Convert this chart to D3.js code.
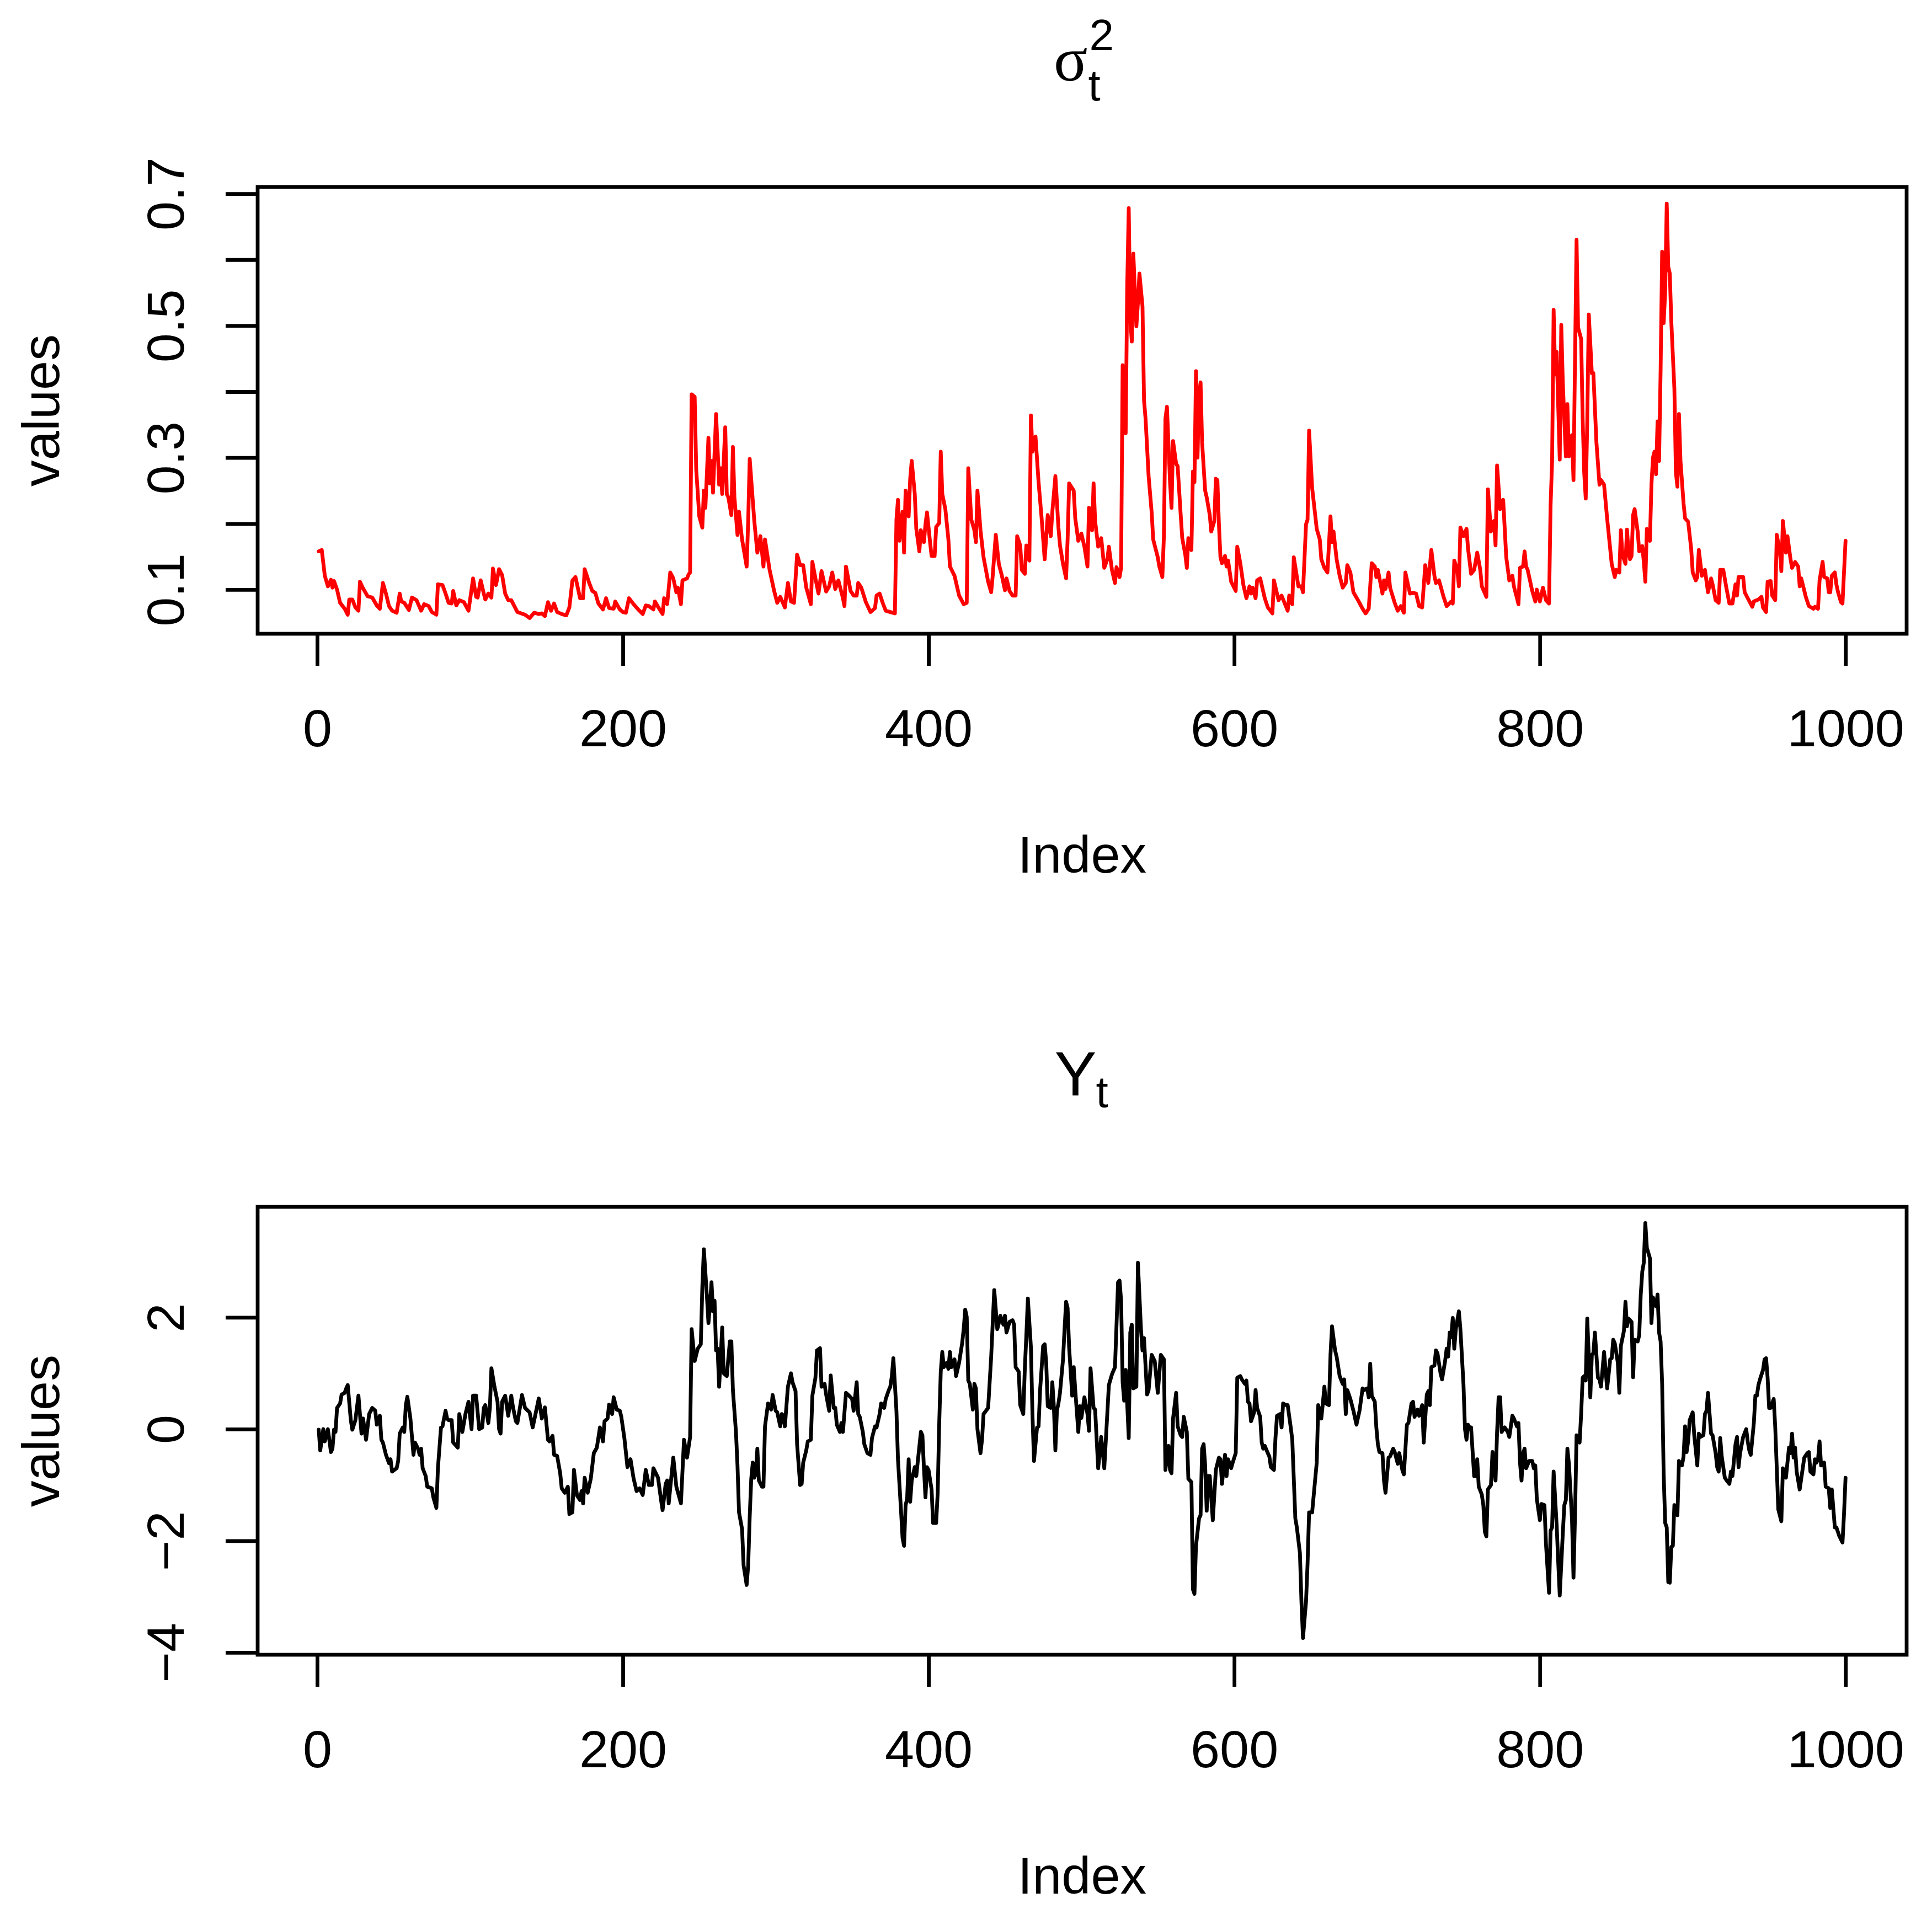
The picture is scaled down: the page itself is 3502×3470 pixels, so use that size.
<!DOCTYPE html>
<html>
<head>
<meta charset="utf-8">
<script src="https://cdn.jsdelivr.net/npm/d3@7"></script>
<style>
  body { margin: 0; background: #fff; }
  svg { display: block; }
</style>
</head>
<body>
<div id="chart"></div>
<script>
// x axis (shared)
var xTicks = [0, 200, 400, 600, 800, 1000];

// top panel: sigma_t^2
var sigmaTicks = [0.1, 0.2, 0.3, 0.4, 0.5, 0.6, 0.7];
var sigmaTickLabels = ["0.1", "", "0.3", "", "0.5", "", "0.7"];
var sigmaIdx = [1,3,5,7,9,10,11,13,15,18,20,21,23,25,27,28,30,33,36,39,41,43,45,47,49,52,54,55,57,60,62,65,68,70,73,75,78,79,82,84,86,88,89,91,93,96,99,100,102,104,105,107,109,110,112,114,115,117,119,121,123,125,127,131,136,139,142,145,147,149,151,153,155,157,160,163,165,167,169,172,174,175,178,180,182,184,187,189,191,194,195,198,200,202,204,207,210,213,215,217,220,221,223,226,
  227,229,231,233,235,236,238,239,242,243,244,245,247,248,250,252,253,254,256,257,258,259,261,263,264,265,267,268,269,271,272,273,275,276,278,281,282,283,286,288,290,292,293,296,299,301,303,306,308,310,312,314,316,318,320,323,324,326,328,330,333,335,337,339,341,344,345,346,349,351,353,354,356,359,362,365,366,368,370,372,375,378,379,380,381,383,384,385,387,388,389,391,392,394,395,397,398,399,401,402,404,405,407,408,409,411,413,414,417,420,423,425,426,428,430,431,432,434,436,439,441,442,444,446,448,450,451,453,455,457,458,460,461,463,464,466,467,468,470,472,474,476,478,480,481,483,485,486,488,490,491,492,495,496,498,500,
  502,504,505,507,508,509,511,513,515,517,518,520,522,523,525,526,527,529,530,531,532,533,534,536,537,538,540,541,542,544,546,547,550,551,553,554,555,556,558,559,560,562,563,565,566,568,569,570,572,573,574,575,576,577,578,579,581,582,584,585,587,588,589,590,591,592,594,595,596,598,601,602,604,606,608,610,611,612,614,615,617,620,622,625,626,629,631,635,636,638,639,642,644,645,647,648,649,651,653,654,656,657,659,661,663,664,665,667,669,671,673,674,676,678,681,684,686,688,690,692,693,694,697,698,699,701,702,705,707,709,711,712,715,717,719,721,723,725,727,729,731,732,734,737,739,742,743,744,746,747,748,750,752,753,755,757,759,761,762,765,766,768,770,771,772,774,776,
  778,780,782,783,785,786,787,789,790,791,792,795,797,798,800,802,804,806,807,808,809,810,811,813,814,815,817,818,819,821,822,823,824,825,827,828,829,830,831,832,834,835,837,839,840,842,844,847,849,850,852,853,854,856,857,858,859,860,861,862,864,865,867,868,869,870,872,873,874,875,876,877,878,879,880,881,882,883,884,885,886,888,889,890,891,892,894,895,897,899,900,902,903,904,906,908,910,912,913,915,917,918,920,922,924,926,928,929,930,933,934,936,939,940,943,945,946,948,949,951,952,954,955,957,958,959,961,962,964,965,967,969,970,971,974,976,979,980,982,983,985,986,988,989,990,991,993,994,995,997,998,1000];
var sigmaVal = [.158,.160,.121,.105,.115,.103,.113,.100,.080,.071,.062,.085,.085,.073,.068,.112,.102,.090,.088,.076,.071,.110,.094,.075,.068,.065,.094,.082,.080,.069,.088,.084,.068,.078,.075,.066,.062,.108,.107,.094,.080,.079,.098,.076,.084,.081,.068,.084,.117,.089,.088,.114,.094,.085,.094,.088,.132,.107,.131,.122,.094,.084,.084,.066,.062,.057,.065,.063,.064,.060,.081,.068,.079,.066,.063,.061,.073,.114,.119,.087,.087,.131,.110,.098,.095,.079,.070,.087,.072,.071,.082,.070,.066,.065,.087,.078,.070,.063,.076,.075,.070,.082,.074,.063,
  .087,.078,.126,.117,.096,.103,.078,.114,.117,.123,.126,.396,.392,.282,.211,.194,.250,.224,.330,.261,.295,.247,.366,.259,.284,.245,.346,.245,.240,.213,.316,.240,.183,.218,.176,.135,.204,.298,.204,.156,.181,.135,.176,.130,.098,.080,.089,.073,.110,.082,.080,.153,.137,.137,.103,.078,.142,.117,.094,.128,.097,.105,.126,.101,.114,.087,.075,.135,.098,.091,.091,.110,.103,.081,.066,.072,.091,.094,.080,.068,.066,.064,.206,.236,.174,.218,.156,.250,.211,.268,.295,.245,.192,.158,.190,.172,.199,.217,.172,.151,.151,.195,.201,.309,.245,.222,.176,.135,.121,.091,.078,.080,.284,.206,.190,.172,.250,.190,.149,.112,.096,.121,.183,.139,.121,.099,.117,.098,.091,.091,.181,.167,.130,.124,.167,.144,.364,.309,.332,.263,.208,.146,.213,.181,.218,.272,.194,.167,.139,.117,.176,.261,.250,.208,.174,.185,
  .165,.135,.224,.190,.261,.204,.165,.178,.133,.146,.165,.130,.110,.134,.119,.133,.440,.337,.561,.678,.511,.476,.609,.499,.534,.579,.529,.387,.359,.272,.217,.176,.149,.135,.119,.181,.359,.377,.263,.224,.325,.291,.287,.213,.178,.153,.133,.178,.160,.279,.263,.431,.300,.394,.414,.323,.250,.240,.213,.188,.204,.268,.266,.199,.149,.140,.151,.135,.144,.112,.098,.165,.140,.107,.087,.105,.094,.103,.087,.114,.117,.087,.073,.064,.114,.084,.091,.068,.091,.078,.149,.105,.105,.096,.199,.206,.341,.254,.213,.192,.176,.146,.133,.126,.211,.172,.188,.146,.121,.103,.110,.137,.126,.096,.084,.071,.064,.071,.140,.135,.119,.130,.094,.114,.101,.126,.103,.080,.068,.075,.065,.126,.094,.095,.094,.075,.073,.137,.110,.160,.121,.110,.114,.089,.075,.082,.079,.144,.130,.105,.194,.181,.192,.162,.124,.130,.156,.130,.105,.089,.252,.188,.204,.167,.288,.222,.236,
  .149,.114,.121,.105,.087,.078,.133,.135,.158,.135,.130,.098,.082,.100,.082,.103,.084,.079,.227,.295,.524,.426,.460,.297,.501,.414,.302,.381,.302,.334,.266,.449,.630,.497,.480,.359,.277,.238,.355,.517,.428,.428,.323,.259,.266,.259,.208,.139,.119,.130,.126,.190,.153,.139,.191,.158,.146,.151,.213,.222,.188,.158,.166,.142,.112,.192,.174,.259,.300,.309,.275,.355,.295,.433,.612,.504,.552,.685,.589,.579,.506,.405,.277,.256,.366,.295,.231,.208,.203,.162,.126,.114,.119,.160,.121,.130,.096,.117,.108,.084,.080,.130,.130,.103,.079,.079,.108,.091,.119,.119,.096,.087,.074,.082,.085,.089,.073,.066,.112,.113,.091,.084,.183,.158,.128,.204,.156,.181,.146,.133,.142,.135,.105,.117,.089,.075,.071,.074,.071,.114,.142,.119,.117,.096,.096,.121,.126,.108,.097,.081,.079,.174];

// bottom panel: Y_t
var yTicks = [-4, -2, 0, 2];
var yTickLabels = ["\u22124", "\u22122", "0", "2"];
var yIdx = [1,2,4,5,7,9,10,11,12,13,15,16,18,19,20,22,23,25,27,29,30,32,34,36,38,39,41,42,43,45,47,48,49,52,53,54,56,57,58,59,61,63,64,66,67,68,69,71,72,75,76,78,79,81,82,84,85,86,88,89,92,93,95,97,99,100,101,102,104,106,108,109,110,112,113,114,116,118,119,120,121,123,125,127,128,130,131,134,136,139,141,145,147,149,151,152,154,155,157,159,160,162,164,165,167,168,170,172,173,174,175,177,179,181,183,185,187,188,190,191,193,194,196,198,199,201,203,205,207,209,211,213,215,217,219,220,223,225,226,
  228,229,230,233,235,238,240,242,244,245,247,249,251,252,253,255,256,257,258,259,260,261,262,263,265,266,268,270,271,272,274,275,276,278,279,281,282,283,284,285,286,287,288,289,291,292,293,295,297,298,300,301,303,304,305,306,308,310,311,313,314,316,317,318,320,321,323,324,326,327,329,330,332,333,335,336,338,339,340,342,343,344,346,348,350,351,353,354,355,357,358,360,362,363,365,366,368,369,371,372,374,375,376,377,379,380,382,383,384,385,386,387,388,389,391,392,393,395,396,397,398,399,400,402,403,405,406,407,408,409,410,412,413,414,415,417,418,420,422,423,424,425,426,427,429,430,431,432,434,435,436,439,441,443,445,446,447,449,450,451,453,455,456,457,459,460,462,463,464,465,467,468,469,471,472,473,475,476,477,478,480,481,482,483,484,485,486,488,489,490,491,492,494,495,496,498,499,
  500,502,504,505,506,508,509,511,513,515,518,520,522,524,525,526,527,528,529,531,532,533,534,536,537,539,540,541,543,544,546,548,550,552,554,555,557,558,559,560,562,563,565,566,567,569,570,572,573,574,575,577,578,579,580,581,582,583,584,586,588,590,591,592,594,595,596,598,599,601,602,604,605,607,608,609,610,611,613,614,615,617,618,619,620,622,623,624,626,627,628,630,631,632,634,635,637,638,640,641,643,644,645,647,648,649,651,652,654,655,657,658,659,660,662,663,664,666,667,669,671,672,673,674,676,678,680,682,684,685,687,688,689,690,692,693,694,695,697,698,699,701,702,704,705,707,708,710,711,713,714,716,717,718,720,721,723,724,726,727,728,729,731,732,733,735,736,738,739,740,741,742,743,744,745,746,747,748,750,751,752,753,754,755,757,758,759,760,762,763,764,765,766,768,769,771,772,773,774,775,777,
  779,780,782,783,785,786,787,788,789,790,791,793,795,796,797,798,800,801,803,804,806,807,808,809,811,812,813,815,816,817,818,819,821,822,823,824,826,827,828,829,830,831,832,833,834,835,836,838,839,840,842,843,844,845,846,847,848,849,851,852,853,855,856,857,858,860,861,862,864,865,866,867,868,869,870,872,873,874,876,877,878,879,880,881,882,883,884,885,886,887,888,889,890,891,893,894,895,896,897,898,900,901,903,904,905,907,908,909,910,912,913,915,916,917,918,919,921,922,924,925,926,928,929,930,931,933,935,936,937,938,940,941,942,943,944,946,947,948,949,950,951,953,954,955,956,958,959,961,962,963,964,965,966,967,968,970,972,973,975,976,977,979,980,981,982,983,984,986,987,989,990,991,993,994,996,998,999,1000];
var yVal = [-0.01,-0.38,0,-0.22,0,-0.41,-0.35,-0.01,-0.05,0.38,0.46,0.62,0.65,0.73,0.79,0.16,-0.01,0.16,0.60,-0.08,0.19,-0.19,0.27,0.38,0.33,0.08,0.24,-0.19,-0.24,-0.46,-0.61,-0.54,-0.76,-0.70,-0.57,-0.08,0.03,-0.05,0.43,0.58,0.19,-0.46,-0.24,-0.35,-0.46,-0.35,-0.70,-0.84,-1.03,-1.06,-1.22,-1.41,-0.70,0.03,0.05,0.33,0.19,0.16,0.16,-0.24,-0.33,0.27,-0.05,0.27,0.49,0.24,0,0.60,0.60,0,0.03,0.38,0.43,0.11,0.38,1.09,0.76,0.49,0,-0.08,0.49,0.60,0.24,0.60,0.41,0.14,0.11,0.61,0.38,0.30,0.03,0.55,0.19,0.39,-0.19,-0.22,-0.12,-0.46,-0.48,-0.79,-1.06,-1.14,-1.03,-1.52,-1.49,-0.73,-1.19,-1.27,-1.11,-1.33,-0.87,-1.14,-0.89,-0.43,-0.33,0.03,-0.22,0.14,0.19,0.44,0.27,0.57,0.35,0.33,0.22,-0.16,-0.68,-0.54,-0.88,-1.11,-1.06,-1.18,-0.73,-1.00,-1.00,-0.70,-0.87,-1.27,-1.45,
  -0.98,-0.92,-1.33,-0.51,-1.03,-1.33,-0.19,-0.51,-0.14,1.79,1.22,1.44,1.52,2.55,3.22,2.38,1.90,2.22,2.63,2.11,2.30,1.41,1.44,0.76,1.82,1.00,0.95,1.57,1.57,0.70,-0.05,-0.65,-1.49,-1.79,-2.44,-2.79,-2.44,-1.57,-0.89,-0.60,-0.87,-0.79,-0.35,-0.92,-1.03,-1.03,0.05,0.46,0.35,0.61,0.33,0.30,0.05,0.27,0.24,0.05,0.76,1.00,0.84,0.68,-0.27,-1.00,-0.98,-0.60,-0.38,-0.22,-0.19,0.60,0.92,1.41,1.45,0.76,0.81,0.62,0.33,0.96,0.38,0.38,0.08,-0.05,0.11,-0.05,0.65,0.60,0.54,0.33,0.84,0.27,0.22,-0.05,-0.27,-0.43,-0.46,-0.16,0.05,0.03,0.27,0.46,0.38,0.54,0.70,0.76,0.95,1.27,0.33,-0.54,-1.46,-1.95,-2.09,-1.36,-1.25,-0.54,-1.30,-0.92,-0.68,-0.84,-0.57,-0.05,-0.11,-0.70,-1.22,-0.68,-0.73,-1.08,-1.68,-1.68,-1.14,0.11,1.03,1.38,1.11,1.19,1.08,1.38,1.11,1.25,0.95,1.19,1.54,1.79,2.14,2.01,0.87,0.81,0.35,0.81,0.73,0,-0.43,-0.19,0.27,0.38,1.30,2.49,1.79,1.90,2.03,1.87,2.03,1.73,1.92,1.95,1.87,1.11,1.03,0.43,0.27,1.08,1.68,2.34,1.46,0.27,-0.57,0.03,0.05,0.70,1.49,1.52,1.19,0.41,0.38,0.84,0.41,-0.38,0.33,0.46,0.65,1.25,1.79,2.28,2.17,1.46,0.60,1.11,0.70,-0.05,0.41,
  0.20,0.57,0.27,-0.03,1.09,0.38,0.35,-0.70,-0.14,-0.70,0.79,0.98,1.11,2.63,2.66,2.30,0.84,0.51,1.06,-0.16,1.73,1.87,0.73,0.76,2.98,1.79,1.41,1.63,0.62,0.70,1.33,1.22,0.65,1.33,1.25,-0.73,-0.30,-0.73,-0.79,0.19,0.65,0.05,-0.11,-0.14,0.22,-0.05,-0.89,-0.95,-2.87,-2.95,-2.09,-1.60,-1.54,-0.35,-0.27,-0.65,-1.46,-0.84,-0.84,-1.63,-0.73,-0.51,-0.54,-0.98,-0.46,-0.84,-0.54,-0.70,-0.60,-0.43,0.92,0.95,0.89,0.81,0.87,0.49,0.46,0.14,0.30,0.70,0.38,0.22,-0.24,-0.35,-0.30,-0.43,-0.49,-0.68,-0.73,-0.16,0.24,0.27,0.03,0.46,0.43,0.43,0.03,-0.19,-1.60,-1.76,-2.22,-3.09,-3.74,-3.09,-2.41,-1.49,-1.49,-1.19,-0.60,0.43,0.19,0.46,0.76,0.46,0.43,1.33,1.84,1.41,1.30,0.95,0.81,0.89,0.27,0.70,0.54,0.33,0.08,0.33,0.73,0.70,0.73,0.57,1.17,0.60,0.49,0.03,-0.27,-0.41,-0.43,-0.92,-1.14,-0.51,-0.49,-0.35,-0.41,-0.62,-0.43,-0.73,-0.81,0.08,0.11,0.46,0.49,0.22,0.35,0.24,0.43,-0.24,0.62,0.68,0.43,1.11,1.14,1.41,1.36,1.00,0.89,1.22,1.44,1.30,1.73,1.65,1.99,1.44,1.79,1.95,2.11,1.79,0.81,0,-0.19,0.08,0.03,0.03,-0.84,-0.84,-0.54,-1.03,-1.17,-1.36,-1.84,-1.92,-1.08,-1.00,-0.41,-0.92,-0.05,0.57,0.57,-0.05,0.03,
  -0.05,-0.14,0.24,0.19,0.05,0.11,-0.60,-0.92,-0.43,-0.35,-0.70,-0.57,-0.57,-0.70,-0.65,-1.25,-1.63,-1.34,-1.36,-2.06,-2.93,-1.82,-1.76,-0.76,-1.73,-2.38,-2.98,-1.87,-1.36,-1.27,-0.35,-0.62,-1.60,-2.66,-1.54,-0.11,-0.24,0.27,0.92,0.95,0.87,1.98,1.30,0.57,1.33,1.36,1.73,0.92,0.89,0.76,1.38,1.06,0.73,0.98,1.25,1.27,1.60,1.54,1.19,0.65,1.49,1.76,2.28,1.84,1.98,1.92,0.93,1.60,1.57,1.68,2.41,2.82,2.98,3.69,3.25,3.06,1.90,2.36,2.20,2.41,1.73,1.57,0.81,-0.81,-1.68,-1.76,-2.74,-2.75,-2.11,-2.09,-1.36,-1.38,-1.54,-0.57,-0.65,-0.49,0.05,-0.41,-0.22,0.16,0.30,-0.11,-0.65,-0.08,-0.14,-0.11,0.27,0.33,0.65,-0.08,-0.11,-0.43,-0.68,-0.76,-0.16,-0.49,-0.87,-0.91,-0.98,-0.76,-0.84,-0.27,-0.14,-0.68,-0.43,-0.14,0,-0.22,-0.38,-0.46,0.11,0.60,0.60,0.79,0.89,1.06,1.25,1.27,0.92,0.38,0.38,0.54,0.03,-0.70,-1.44,-1.65,-0.70,-0.87,-0.60,-0.33,-0.43,-0.08,-0.51,-0.33,-0.76,-1.08,-0.70,-0.51,-0.43,-0.41,-0.76,-0.81,-0.54,-0.60,-0.54,-0.22,-0.65,-0.60,-1.03,-1.06,-1.41,-1.08,-1.76,-1.76,-1.92,-2.03,-1.52,-0.87];

var W = 3502, H = 3470;
var left = 467, right = 3456;
var fontSans = "'Liberation Sans', Arial, Helvetica, sans-serif";
var fontSerif = "'Liberation Serif', 'Times New Roman', serif";
var fs = 95.4, lw = 6.8;

var svg = d3.select("#chart").append("svg")
    .attr("width", W)
    .attr("height", H)
    .style("background", "#fff");

var x = d3.scaleLinear().domain([-38.96, 1039.96]).range([left, right]);

var panels = [
  {top: 339, bottom: 1149, domain: [0.0331, 0.7101], idx: sigmaIdx, val: sigmaVal,
   ticks: sigmaTicks, labels: sigmaTickLabels, color: "#ff0000", title: "sigma", titleGap: 193},
  {top: 2188, bottom: 3000, domain: [-4.04, 3.98], idx: yIdx, val: yVal,
   ticks: yTicks, labels: yTickLabels, color: "#000000", title: "Y", titleGap: 202}
];

panels.forEach(function(p) {
  var y = d3.scaleLinear().domain(p.domain).range([p.bottom, p.top]);
  var g = svg.append("g");

  var pts = p.idx.map(function(d, i) { return [d, p.val[i]]; });
  var line = d3.line()
      .x(function(d) { return x(d[0]); })
      .y(function(d) { return y(d[1]); });

  g.append("path")
   .datum(pts)
   .attr("d", line)
   .attr("fill", "none")
   .attr("stroke", p.color)
   .attr("stroke-width", lw)
   .attr("stroke-linejoin", "round")
   .attr("stroke-linecap", "round");

  // box
  g.append("rect")
   .attr("x", left).attr("y", p.top)
   .attr("width", right - left).attr("height", p.bottom - p.top)
   .attr("fill", "none").attr("stroke", "#000").attr("stroke-width", lw);

  // x axis
  var xa = g.append("g")
      .attr("transform", "translate(0," + p.bottom + ")")
      .call(d3.axisBottom(x).tickValues(xTicks).tickSize(58).tickFormat(d3.format("d")));
  xa.select(".domain").remove();
  xa.selectAll("line").attr("stroke", "#000").attr("stroke-width", lw);
  xa.selectAll("text")
    .attr("y", 204).attr("dy", 0)
    .attr("font-family", fontSans).attr("font-size", fs).attr("fill", "#000");

  // y axis (labels turned, as R draws them)
  var ya = g.append("g")
      .attr("transform", "translate(" + left + ",0)")
      .call(d3.axisLeft(y).tickValues(p.ticks).tickSize(58)
        .tickFormat(function(d, i) { return p.labels[i]; }));
  ya.select(".domain").remove();
  ya.selectAll("line").attr("stroke", "#000").attr("stroke-width", lw);
  ya.selectAll("text")
    .attr("x", 0).attr("y", 0).attr("dy", 0)
    .attr("text-anchor", "middle")
    .attr("transform", "translate(-134,0) rotate(-90)")
    .attr("font-family", fontSans).attr("font-size", fs).attr("fill", "#000");

  // axis titles
  g.append("text")
   .attr("x", (left + right) / 2).attr("y", p.bottom + 433)
   .attr("text-anchor", "middle")
   .attr("font-family", fontSans).attr("font-size", fs)
   .text("Index");
  g.append("text")
   .attr("transform", "translate(107," + (p.top + p.bottom) / 2 + ") rotate(-90)")
   .attr("text-anchor", "middle")
   .attr("font-family", fontSans).attr("font-size", fs)
   .text("values");

  // main title
  var cx = (left + right) / 2, by = p.top - p.titleGap;
  var t = g.append("g").attr("fill", "#000");
  if (p.title === "sigma") {
    t.append("text").attr("x", cx + 10).attr("y", by)
     .attr("text-anchor", "end").attr("font-family", fontSerif).attr("font-size", 114)
     .text("\u03C3");
    t.append("text").attr("x", cx + 11).attr("y", by + 36)
     .attr("font-family", fontSans).attr("font-size", 80).text("t");
    t.append("text").attr("x", cx + 13).attr("y", by - 55)
     .attr("font-family", fontSans).attr("font-size", 80).text("2");
  } else {
    t.append("text").attr("x", cx + 26).attr("y", by)
     .attr("text-anchor", "end").attr("font-family", fontSans).attr("font-size", 114)
     .text("Y");
    t.append("text").attr("x", cx + 25).attr("y", by + 21)
     .attr("font-family", fontSans).attr("font-size", 80).text("t");
  }
});
</script>
</body>
</html>
